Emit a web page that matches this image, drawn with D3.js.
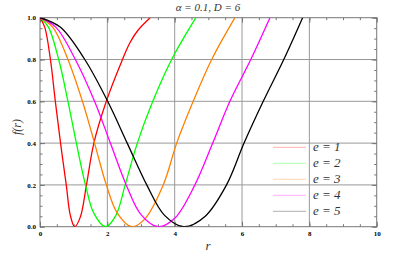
<!DOCTYPE html>
<html>
<head>
<meta charset="utf-8">
<script src="https://cdn.jsdelivr.net/npm/d3@7"></script>
<style>
  body { margin: 0; background: #fff; }
  svg { display: block; }
  .tick text { font-family: "Liberation Serif", "DejaVu Serif", serif; font-weight: bold; font-size: 7px; fill: #000; }
  .axis path { display: none; }
  .axis line { stroke: #777; }
</style>
</head>
<body>
<svg id="chart" width="415" height="260"></svg>
<script>
// values: [r, f(r)]
var seriesNames = ["e = 1", "e = 2", "e = 3", "e = 4", "e = 5"];
var seriesColors = ["#ff0000", "#00ff00", "#ff8000", "#ff00ff", "#000000"];

var e1 = [[0,1],[0.14,0.955],[0.31,0.80],[0.455,0.60],[0.61,0.40],[0.78,0.20],[0.9,0.055],[1.03,0],
          [1.2,0.047],[1.38,0.20],[1.60,0.40],[1.97,0.60],[2.45,0.80],[2.67,0.88],[2.91,0.94],[3.27,1.0]];
var e2 = [[0,1],[0.25,0.955],[0.555,0.80],[0.83,0.60],[1.08,0.40],[1.35,0.20],[1.6,0.064],[1.95,0],
          [2.25,0.053],[2.53,0.20],[2.89,0.40],[3.35,0.60],[3.91,0.80],[4.63,1.0]];
var e3 = [[0,1],[0.375,0.955],[0.83,0.80],[1.26,0.60],[1.62,0.40],[1.97,0.20],[2.3,0.064],[2.73,0],
          [3.1,0.035],[3.66,0.20],[4.06,0.40],[4.55,0.60],[5.10,0.80],[5.79,1.0]];
var e4 = [[0,1],[0.47,0.955],[1.05,0.80],[1.62,0.60],[2.09,0.40],[2.56,0.20],[3.0,0.058],[3.51,0],
          [4.0,0.04],[4.60,0.20],[5.13,0.40],[5.64,0.60],[6.26,0.80],[6.83,1.0]];
var e5 = [[0,1],[0.6,0.955],[1.33,0.80],[2.01,0.60],[2.59,0.40],[3.17,0.20],[3.7,0.054],[4.27,0],
          [4.9,0.049],[5.54,0.20],[6.06,0.40],[6.63,0.60],[7.24,0.80],[7.80,1.0]];
var seriesData = [e1, e2, e3, e4, e5];

var xTicks = [0, 2, 4, 6, 8, 10];
var yTicks = [0, 0.2, 0.4, 0.6, 0.8, 1.0];

var svg = d3.select("#chart");
var plotLeft = 40, plotRight = 376.7, plotTop = 17.7, plotBottom = 226.7;

var x = d3.scaleLinear().domain([0, 10]).range([plotLeft, plotRight]);
var y = d3.scaleLinear().domain([0, 1]).range([plotBottom, plotTop]);

var xMinor = d3.range(0, 10.01, 0.5);
var yMinor = d3.range(0, 1.001, 0.05);

// grid
svg.append("g").selectAll("line").data(xTicks.slice(1, -1)).enter().append("line")
  .attr("x1", function(d) { return x(d); }).attr("x2", function(d) { return x(d); })
  .attr("y1", plotTop).attr("y2", plotBottom)
  .attr("stroke", "#999").attr("stroke-width", 1);
svg.append("g").selectAll("line").data(yTicks.slice(1, -1)).enter().append("line")
  .attr("y1", function(d) { return y(d); }).attr("y2", function(d) { return y(d); })
  .attr("x1", plotLeft).attr("x2", plotRight)
  .attr("stroke", "#999").attr("stroke-width", 1);

// minor ticks
svg.append("g").attr("class", "axis").attr("transform", "translate(0," + plotBottom + ")")
  .call(d3.axisBottom(x).tickValues(xMinor).tickSize(-2.5).tickFormat(""));
svg.append("g").attr("class", "axis").attr("transform", "translate(0," + plotTop + ")")
  .call(d3.axisTop(x).tickValues(xMinor).tickSize(-2.5).tickFormat(""));
svg.append("g").attr("class", "axis").attr("transform", "translate(" + plotLeft + ",0)")
  .call(d3.axisLeft(y).tickValues(yMinor).tickSize(-2.5).tickFormat(""));
svg.append("g").attr("class", "axis").attr("transform", "translate(" + plotRight + ",0)")
  .call(d3.axisRight(y).tickValues(yMinor).tickSize(-2.5).tickFormat(""));

// major ticks
svg.append("g").attr("class", "axis").attr("transform", "translate(0," + plotBottom + ")")
  .call(d3.axisBottom(x).tickValues(xTicks).tickSize(-5).tickPadding(4).tickFormat(d3.format("d")));
svg.append("g").attr("class", "axis").attr("transform", "translate(0," + plotTop + ")")
  .call(d3.axisTop(x).tickValues(xTicks).tickSize(-5).tickFormat(""));
svg.append("g").attr("class", "axis").attr("transform", "translate(" + plotLeft + ",0)")
  .call(d3.axisLeft(y).tickValues(yTicks).tickSize(-5).tickPadding(4).tickFormat(d3.format(".1f")));
svg.append("g").attr("class", "axis").attr("transform", "translate(" + plotRight + ",0)")
  .call(d3.axisRight(y).tickValues(yTicks).tickSize(-5).tickFormat(""));

// frame
svg.append("rect").attr("x", plotLeft).attr("y", plotTop)
  .attr("width", plotRight - plotLeft).attr("height", plotBottom - plotTop)
  .attr("fill", "none").attr("stroke", "#777").attr("stroke-width", 1);

svg.append("clipPath").attr("id", "plot").append("rect")
  .attr("x", plotLeft).attr("y", plotTop).attr("width", plotRight - plotLeft).attr("height", plotBottom - plotTop);

var line = d3.line()
  .x(function(d) { return x(d[0]); })
  .y(function(d) { return y(d[1]); })
  .curve(d3.curveCatmullRom.alpha(0.5));

svg.append("g").attr("clip-path", "url(#plot)").selectAll("path").data(seriesData).enter().append("path")
  .attr("d", line)
  .attr("fill", "none")
  .attr("stroke", function(d, i) { return seriesColors[i]; })
  .attr("stroke-width", 1.3);

// legend
var legend = svg.append("g");
seriesNames.forEach(function(name, i) {
  var ly = 147.3 + i * 16;
  legend.append("line").attr("x1", 273).attr("x2", 306).attr("y1", ly).attr("y2", ly)
    .attr("stroke", seriesColors[i]).attr("stroke-opacity", 0.25).attr("stroke-width", 1.3);
  legend.append("text").attr("x", 313).attr("y", ly + 4)
    .attr("font-family", "Liberation Serif, DejaVu Serif, serif").attr("font-style", "italic")
    .attr("font-size", 13).attr("fill", "#333").text(name);
});

// titles
svg.append("text").attr("x", 208).attr("y", 10.5).attr("text-anchor", "middle")
  .attr("font-family", "Liberation Serif, DejaVu Serif, serif").attr("font-style", "italic")
  .attr("font-size", 11).attr("fill", "#333").text("\u03b1 = 0.1,  D = 6");
svg.append("text").attr("x", 208).attr("y", 250).attr("text-anchor", "middle")
  .attr("font-family", "Liberation Serif, DejaVu Serif, serif").attr("font-style", "italic")
  .attr("font-size", 13).attr("fill", "#333").text("r");
svg.append("text").attr("transform", "translate(21,127) rotate(-90)").attr("text-anchor", "middle")
  .attr("font-family", "Liberation Serif, DejaVu Serif, serif").attr("font-style", "italic")
  .attr("font-size", 12).attr("fill", "#333").text("f(r)");
</script>
</body>
</html>
